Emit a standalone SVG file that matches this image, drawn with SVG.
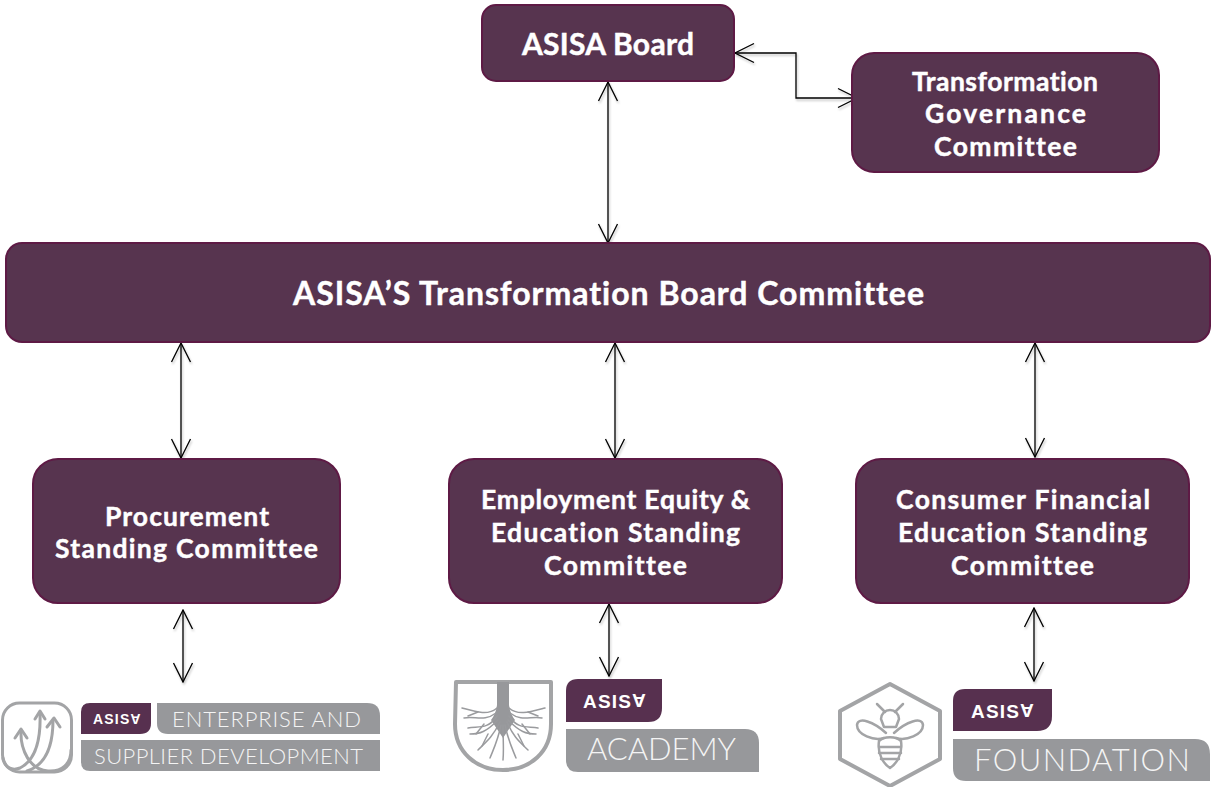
<svg xmlns="http://www.w3.org/2000/svg" width="1211" height="787" viewBox="0 0 1211 787">
<style>
.box{fill:#57344f;stroke:#5e1a45;stroke-width:2}
.t{font-family:"Lato","Liberation Sans",sans-serif;font-weight:700;fill:#fff;stroke:#fff;stroke-width:.45;font-variant-ligatures:none}
.conn{fill:none;stroke:#000;stroke-width:1.3;marker-start:url(#ah);marker-end:url(#ah)}
.purple{fill:#57304f}.grey{fill:#97989b}
.lt{font-family:"Lato","Liberation Sans",sans-serif;font-weight:300;fill:#f4f4f4;font-variant-ligatures:none}
.tag{font-family:"Liberation Sans",sans-serif;font-weight:700;fill:#fff;letter-spacing:1.2px}
.ol{fill:none;stroke:#a3a4a6;stroke-linecap:round;stroke-linejoin:round}
.root{fill:none;stroke:#9a9b9e;stroke-width:1.5;stroke-linecap:round}
</style>
<defs>
<marker id="ah" viewBox="0 0 22 22" refX="21" refY="11" markerWidth="22" markerHeight="22" markerUnits="userSpaceOnUse" orient="auto-start-reverse">
<path d="M2 1.500L21 11L2 20.500" fill="none" stroke="#000" stroke-width="1.3"/>
</marker>
<filter id="sh" x="-20%" y="-20%" width="140%" height="140%"><feDropShadow dx="1" dy="2" stdDeviation="1.2" flood-color="#000" flood-opacity=".25"/></filter>
</defs>
<g id="connectors" filter="url(#sh)">
<path class="conn" d="M608 82V243"/>
<path class="conn" d="M735 53H796V98H857"/>
<path class="conn" d="M181 343V458"/>
<path class="conn" d="M615 343V458"/>
<path class="conn" d="M1035 343V457"/>
<path class="conn" d="M183 610V682"/>
<path class="conn" d="M609 604V676"/>
<path class="conn" d="M1034 608V681"/>
</g>
<g id="asisa-board"><rect class="box" x="482" y="5" width="252" height="76" rx="14"/>
<text class="t" x="522" y="55" font-size="30" textLength="172">ASISA Board</text></g>
<g id="transformation-governance"><rect class="box" x="852" y="53" width="307" height="119" rx="22"/>
<text class="t" font-size="26.5" x="912" y="91" textLength="186">Transformation</text>
<text class="t" font-size="26.5" x="925" y="123" textLength="161">Governance</text>
<text class="t" font-size="26.5" x="934" y="156" textLength="143">Committee</text></g>
<g id="transformation-board"><rect class="box" x="6" y="243" width="1204" height="99" rx="16"/>
<text class="t" font-size="32" x="293" y="305" textLength="631">ASISA’S Transformation Board Committee</text></g>
<g id="procurement"><rect class="box" x="33" y="459" width="307" height="144" rx="25"/>
<text class="t" font-size="26.5" x="105" y="526" textLength="164">Procurement</text>
<text class="t" font-size="26.5" x="55" y="558" textLength="263">Standing Committee</text></g>
<g id="employment-equity"><rect class="box" x="449" y="459" width="333" height="144" rx="25"/>
<text class="t" font-size="26.5" x="481" y="509" textLength="269">Employment Equity &amp;</text>
<text class="t" font-size="26.5" x="491" y="542" textLength="249">Education Standing</text>
<text class="t" font-size="26.5" x="544" y="575" textLength="143">Committee</text></g>
<g id="consumer-financial"><rect class="box" x="856" y="459" width="333" height="144" rx="25"/>
<text class="t" font-size="26.5" x="896" y="509" textLength="254">Consumer Financial</text>
<text class="t" font-size="26.5" x="898" y="542" textLength="249">Education Standing</text>
<text class="t" font-size="26.5" x="951" y="575" textLength="143">Committee</text></g>
<g id="logo-enterprise">
<rect class="ol" x="2.500" y="703" width="69" height="69" rx="17" stroke-width="3"/>
<path class="ol" stroke-width="3" d="M21 730C20 750 30 770 48 771C62 772 71 764 71 750M40 713C41 740 36 760 20 768C12 771 5 768 3 758M53 720C53 745 46 765 27 771"/>
<path class="ol" stroke-width="3" d="M15 738L21 729L27 738M35 719L40 711L45 719M47 727L54 718L60 727"/>
<path class="purple" d="M90 703H151V723Q151 734 140 734H81V712Q81 703 90 703Z"/>
<path class="grey" d="M157 703H367Q380 703 380 716V734H168Q157 734 157 723Z"/>
<path class="grey" d="M81 740H380V771H90Q81 771 81 762Z"/>
<text class="tag" font-size="14" x="93" y="724">ASIS<tspan rotate="180" dx="10.100" dy="-10">A</tspan></text>
<text class="lt" font-size="22" x="172" y="727" textLength="189">ENTERPRISE AND</text>
<text class="lt" font-size="22" x="94" y="764" textLength="269">SUPPLIER DEVELOPMENT</text>
</g>
<g id="logo-academy">
<path class="ol" stroke-width="4" d="M456 682H551V724C551 752 530 770 503 770C476 770 455 752 455 724Z"/>
<path class="grey" d="M497 682H509V705C510 712 512 716 515 720L503 738L491 720C494 716 496 712 497 705Z"/>
<g class="root">
<path d="M497 708C488 716 476 712 462 708M496 713C484 722 476 716 464 718M497 716C488 730 478 726 468 728M498 720C486 732 480 734 470 734M500 722C492 738 486 742 478 750M501 725C498 740 494 748 490 758M503 725C503 740 504 750 503 760M505 725C508 740 512 748 516 758M507 722C514 738 520 742 528 750M508 720C520 732 526 734 536 734M509 716C518 730 528 726 538 728M510 713C522 722 530 716 542 718M509 708C518 716 530 712 545 708"/>
<path d="M478 712L468 716M484 724L476 734M488 734L482 746M518 734L524 746M522 724L530 734M528 712L538 716"/>
</g>
<path class="purple" d="M578 679H662V708Q662 722 648 722H566V691Q566 679 578 679Z"/>
<path class="grey" d="M566 729H745Q759 729 759 743V772H578Q566 772 566 760Z"/>
<text class="tag" font-size="19" x="583" y="708">ASIS<tspan rotate="180" dx="13.700" dy="-13.600">A</tspan></text>
<text class="lt" font-size="31" x="587" y="760" textLength="149">ACADEMY</text>
</g>
<g id="logo-foundation">
<path class="ol" stroke-width="4" d="M890 684L940 711V759L890 786L840 759V711Z"/>
<g class="ol" stroke-width="2.500">
<path d="M877 704L885 712M903 704L895 712"/>
<path d="M881 719A9 9 0 0 1 899 719L896 727H884Z"/>
<path d="M886 733C874 722 858 716 857 725C857 735 874 741 884 738M894 733C906 722 922 716 923 725C923 735 906 741 896 738"/>
<path d="M879 741C877 755 884 764 890 768C896 764 903 755 901 741C896 736 884 736 879 741Z"/>
<path d="M879 747H901M879 753H901M881 759H899"/>
</g>
<path class="purple" d="M965 689H1052V716Q1052 731 1037 731H953V701Q953 689 965 689Z"/>
<path class="grey" d="M953 739H1195Q1210 739 1210 754V781H966Q953 781 953 768Z"/>
<text class="tag" font-size="19" x="971" y="718">ASIS<tspan rotate="180" dx="13.700" dy="-13.600">A</tspan></text>
<text class="lt" font-size="31" x="974" y="771" textLength="216">FOUNDATION</text>
</g>
</svg>
